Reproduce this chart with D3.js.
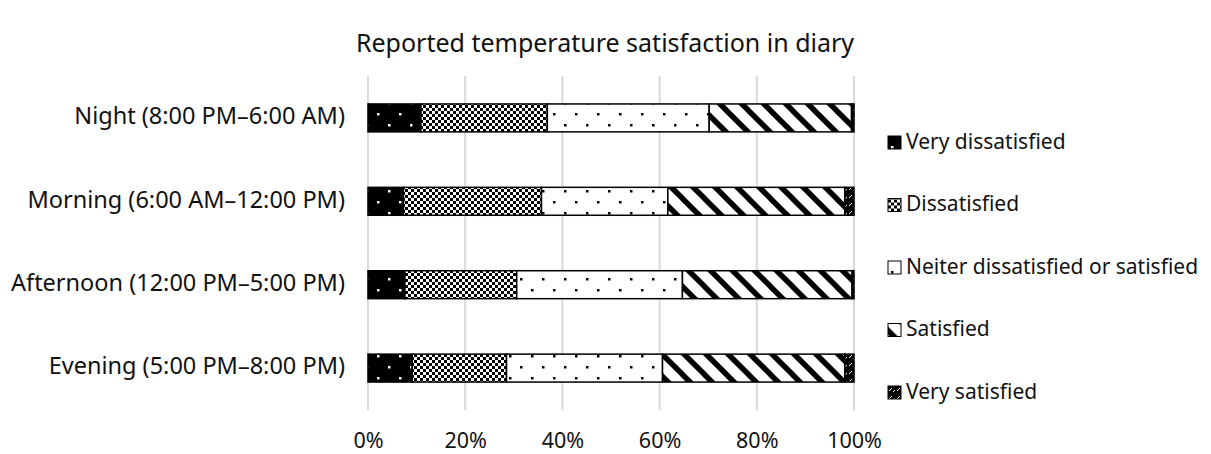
<!DOCTYPE html>
<html><head><meta charset="utf-8">
<script src="https://cdn.jsdelivr.net/npm/d3@7"></script>
<style>
html,body{margin:0;padding:0;background:#fff;}
text{font-family:"Noto Sans",sans-serif;fill:#111;}
</style></head>
<body><svg id="chart" width="1211" height="454"></svg>
<script>
const categories = ["Night (8:00 PM\u20136:00 AM)", "Morning (6:00 AM\u201312:00 PM)", "Afternoon (12:00 PM\u20135:00 PM)", "Evening (5:00 PM\u20138:00 PM)"];
const seriesNames = ["Very dissatisfied", "Dissatisfied", "Neiter dissatisfied or satisfied", "Satisfied", "Very satisfied"];
const veryDissatisfied = [10.9, 7.3, 7.6, 9.1];
const dissatisfied = [26.0, 28.4, 23.0, 19.4];
const neither = [33.3, 26.0, 34.1, 32.1];
const satisfied = [29.3, 36.4, 34.9, 37.5];
const verySatisfied = [0.5, 1.9, 0.4, 1.9];
const tickValues = [0, 0.2, 0.4, 0.6, 0.8, 1.0];
const title = "Reported temperature satisfaction in diary";

const seriesValues = [veryDissatisfied, dissatisfied, neither, satisfied, verySatisfied];
const svg = d3.select("#chart");
const defs = svg.append("defs");
const FONT = "'Noto Sans',sans-serif";

function dotPattern(id, bg, fg){
  const p = defs.append("pattern").attr("id", id).attr("patternUnits","userSpaceOnUse").attr("width",22).attr("height",22);
  p.append("rect").attr("width",22).attr("height",22).attr("fill",bg);
  p.append("rect").attr("x",3).attr("y",3).attr("width",2.5).attr("height",2.5).attr("fill",fg);
  p.append("rect").attr("x",14).attr("y",14).attr("width",2.5).attr("height",2.5).attr("fill",fg);
}
dotPattern("p0","#000","#fff");
dotPattern("p2","#fff","#000");
{
  const p = defs.append("pattern").attr("id","p1").attr("patternUnits","userSpaceOnUse").attr("width",6).attr("height",6);
  p.append("rect").attr("width",6).attr("height",6).attr("fill","#fff");
  p.append("rect").attr("width",3).attr("height",3).attr("fill","#000");
  p.append("rect").attr("x",3).attr("y",3).attr("width",3).attr("height",3).attr("fill","#000");
}
{
  const p = defs.append("pattern").attr("id","p3").attr("patternUnits","userSpaceOnUse").attr("width",22).attr("height",22);
  p.append("rect").attr("width",22).attr("height",22).attr("fill","#fff");
  p.append("path").attr("d","M-3,-3 L25,25 M19,-3 L25,3 M-3,19 L3,25").attr("stroke","#000").attr("stroke-width",5.5);
}
{
  const p = defs.append("pattern").attr("id","p4").attr("patternUnits","userSpaceOnUse").attr("width",8).attr("height",8);
  p.append("rect").attr("width",8).attr("height",8).attr("fill","#000");
  p.append("path").attr("d","M1,6 L4,3 M5,7 L7,5").attr("stroke","#fff").attr("stroke-width",1);
}

const x = d3.scaleLinear().domain([0,1]).range([368,854]);
const y = d3.scaleBand().domain(categories).range([76,410]).paddingInner(0.665).paddingOuter(0.335);

svg.append("text").attr("x",605).attr("y",45).attr("text-anchor","middle").attr("dominant-baseline","middle")
  .style("font-size","25px").text(title);

svg.append("g").selectAll("line").data(tickValues).join("line")
  .attr("x1",d=>x(d)).attr("x2",d=>x(d)).attr("y1",76).attr("y2",410)
  .attr("stroke","#d9d9d9").attr("stroke-width",2);

const xAxis = d3.axisBottom(x).tickValues(tickValues).tickFormat(d3.format(".0%")).tickSize(0).tickPadding(0);
const gx = svg.append("g").attr("transform","translate(0,442)").call(xAxis);
gx.select(".domain").remove();
gx.selectAll("text").attr("dy",null).attr("dominant-baseline","middle").style("font-size","21.5px").style("font-family",FONT).attr("fill","#111");

const yAxis = d3.axisLeft(y).tickSize(0).tickPadding(0);
const gy = svg.append("g").attr("transform","translate(345,0)").call(yAxis);
gy.select(".domain").remove();
gy.selectAll("text").attr("dy",null).attr("dominant-baseline","middle").style("font-size","23.5px").style("font-family",FONT).attr("fill","#111");

const table = categories.map((c,i)=>{ const o={cat:c}; seriesNames.forEach((s,j)=>o[s]=seriesValues[j][i]/100); return o; });
const stack = d3.stack().keys(seriesNames)(table);
svg.append("g").selectAll("g").data(stack).join("g")
  .attr("fill",(d,i)=>`url(#p${i})`)
  .selectAll("rect").data(d=>d).join("rect")
  .attr("x",d=>x(d[0])).attr("width",d=>x(d[1])-x(d[0]))
  .attr("y",d=>y(d.data.cat)).attr("height",y.bandwidth())
  .attr("stroke","#000").attr("stroke-width",1.5);

const leg = svg.append("g").selectAll("g").data(seriesNames).join("g")
  .attr("transform",(d,i)=>`translate(888,${143 + i*62.5})`);
leg.append("rect").attr("x",0).attr("y",-7).attr("width",13).attr("height",13)
  .attr("fill",(d,i)=>`url(#p${i})`).attr("stroke","#000").attr("stroke-width",1);
leg.append("text").attr("x",18).attr("y",0).attr("dominant-baseline","middle").style("font-size","21px").text(d=>d);
</script></body></html>
